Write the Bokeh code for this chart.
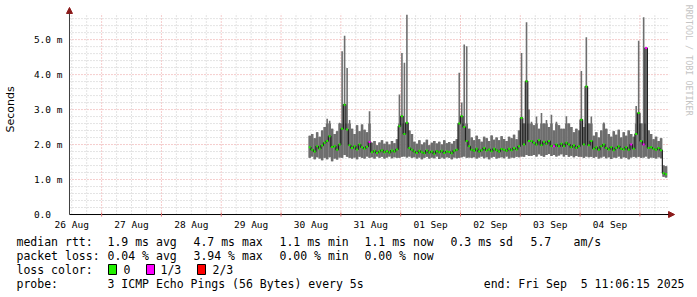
import math
from bokeh.plotting import figure
from bokeh.layouts import column
from bokeh.models import Range1d, FixedTicker, Arrow, NormalHead
from bokeh.core.properties import value
from bokeh.embed import file_html
from bokeh.resources import INLINE

# ---------------- data (median RTT in ms, hourly bins) ----------------
# hours since 26 Aug 00:00; first bin starts 30 Aug 11:00
DATA_START = 107
lo = [
    1.62, 1.66, 1.58, 1.64, 1.60, 1.55, 1.62, 1.58, 1.64, 1.52, 1.60, 1.57, 1.63,
    1.62, 1.70, 1.65, 1.62,
    1.60, 1.63, 1.58, 1.65, 1.62, 1.60, 1.66, 1.62,
    1.64, 1.60, 1.66, 1.62, 1.65, 1.60, 1.63, 1.66, 1.61, 1.64, 1.62,
    1.62, 1.65, 1.66, 1.63, 1.66, 1.62,
    1.64, 1.60, 1.63, 1.58, 1.62, 1.65, 1.60, 1.63, 1.61, 1.66, 1.59, 1.63, 1.60, 1.64, 1.62, 1.58, 1.63, 1.61,
    1.62, 1.64, 1.66, 1.62, 1.63,
    1.62, 1.64, 1.60, 1.63, 1.66, 1.61, 1.64, 1.58, 1.63, 1.65, 1.60, 1.62, 1.64, 1.61, 1.66, 1.60, 1.63, 1.62, 1.65,
    1.64, 1.66, 1.65, 1.70, 1.67, 1.68,
    1.70, 1.66, 1.72, 1.68, 1.65, 1.70, 1.73, 1.67, 1.70, 1.66, 1.69, 1.72,
    1.66, 1.70, 1.65, 1.68, 1.64, 1.67, 1.65,
    1.65, 1.62, 1.66, 1.64, 1.65,
    1.62, 1.65, 1.60, 1.63, 1.66, 1.61, 1.64, 1.59, 1.63, 1.62, 1.66, 1.60, 1.64, 1.62, 1.58, 1.63, 1.65,
    1.63, 1.65, 1.62, 1.63, 1.66, 1.60, 1.63,
    1.62, 1.60, 1.64, 1.61,
    1.08, 1.06,
]
hi = [
    2.25, 2.30, 2.18, 2.35, 2.22, 2.40, 2.50, 2.74, 2.68, 2.45, 2.30, 2.38, 2.62,
    4.67, 5.11, 4.19, 2.70,
    2.45, 2.30, 2.55, 2.38, 2.57, 2.42, 2.35, 2.95,
    2.05, 2.10, 1.98, 2.06, 2.12, 2.02, 2.08, 2.00, 2.10, 2.04, 2.15,
    3.43, 4.62, 4.34, 5.71, 2.40, 2.30,
    2.08, 2.02, 2.12, 2.00, 2.06, 2.14, 1.98, 2.05, 2.10, 2.03, 2.08, 2.00, 2.12, 2.04, 2.07, 2.02, 2.10, 2.15,
    4.05, 3.20, 4.86, 4.81, 2.45,
    2.20, 2.12, 2.25, 2.15, 2.08, 2.22, 2.18, 2.10, 2.26, 2.14, 2.20, 2.12, 2.24, 2.16, 2.10, 2.22, 2.18, 2.28, 2.15,
    2.40, 4.62, 2.60, 5.50, 3.00, 2.65,
    2.55, 2.80, 2.45, 2.90, 2.60, 2.70, 2.50, 2.85, 2.40, 2.65, 2.55, 2.45,
    2.45, 2.81, 2.60, 2.50, 2.35, 2.45, 2.40,
    4.10, 2.50, 5.07, 2.60, 2.80,
    2.25, 2.35, 2.20, 2.40, 2.63, 2.45, 2.30, 2.22, 2.38, 2.28, 2.42, 2.20, 2.35, 2.25, 2.40, 2.30, 2.22,
    3.10, 4.97, 2.60, 5.64, 4.76, 2.40, 2.30,
    2.15, 2.22, 2.10, 2.18,
    1.40, 1.38,
]
med = [
    1.92, 1.85, 1.80, 1.95, 1.88, 1.97, 2.05, 2.10, 2.24, 1.93, 1.95, 1.85, 2.00,
    2.45, 3.14, 2.43, 1.98,
    1.90, 1.95, 1.86, 2.00, 1.92, 1.88, 1.94, 2.07,
    1.78, 1.82, 1.76, 1.80, 1.84, 1.78, 1.81, 1.77, 1.83, 1.80, 1.86,
    2.52, 2.81, 2.30, 2.62, 1.90, 1.85,
    1.80, 1.76, 1.82, 1.78, 1.75, 1.83, 1.77, 1.80, 1.74, 1.81, 1.78, 1.82, 1.76, 1.80, 1.79, 1.75, 1.82, 1.85,
    2.60, 2.81, 2.50, 2.10, 1.95,
    1.85, 1.82, 1.88, 1.80, 1.84, 1.90, 1.83, 1.86, 1.81, 1.88, 1.84, 1.80, 1.87, 1.85, 1.82, 1.88, 1.84, 1.90, 1.86,
    1.95, 2.76, 2.00, 3.81, 2.10, 2.10,
    2.05, 2.00, 2.12, 1.98, 2.08, 2.02, 2.10, 1.96, 1.95, 2.00, 1.95, 2.02,
    1.95, 2.05, 2.00, 1.92, 1.98, 1.90, 1.95,
    2.71, 2.00, 3.66, 1.98, 2.10,
    1.88, 1.92, 1.85, 1.95, 2.00, 1.90, 1.86, 1.92, 1.84, 1.90, 1.95, 1.88, 1.86, 1.92, 1.85, 2.00, 1.88,
    2.30, 2.90, 2.10, 2.00, 4.76, 1.90, 1.92,
    1.88, 1.85, 1.90, 1.84,
    1.18, 1.15,
]
# bins whose packet loss was 1/3 (all others 0)
loss_third_bins = [24, 98, 129, 134, 135]

loss_names = ["0", "1/3", "2/3"]
loss_colors = ["#22f000", "#ff00ff", "#ff0000"]

day_labels = ["26 Aug", "27 Aug", "28 Aug", "29 Aug", "30 Aug",
              "31 Aug", "01 Sep", "02 Sep", "03 Sep", "04 Sep"]
y_ticks = [0, 1, 2, 3, 4, 5]
y_labels = ["0.0\u00a0\u00a0", "1.0 m", "2.0 m", "3.0 m", "4.0 m", "5.0 m"]

stats_rtt = ["1.9 ms avg", "4.7 ms max", "1.1 ms min", "1.1 ms now", "0.3 ms sd", "5.7", "am/s"]
stats_loss = ["0.04 % avg", "3.94 % max", "0.00 % min", "0.00 % now"]

# ---------------- geometry ----------------
X0 = 11.104            # 26 Aug 11:06:15 (hours since 26 Aug 00:00)
SPAN = 240.0           # ten days shown
PXH = 2.5              # px per hour
PXV = 35.14            # px per ms
AX_X, AX_Y = 67, 215   # pixel position of the axes corner
W, H_MAIN, H_LEG = 697, 232, 65
FL, FT, FB = 63, 0, 219   # frame of main figure (left, top, bottom), right = W

XS = X0 - (AX_X - FL) / PXH
XE = X0 + (W - AX_X) / PXH
YS = -(FB - AX_Y) / PXV
YE = (AX_Y - FT) / PXV
Y_TOP = (AX_Y - 13) / PXV          # top of the graph area


def px2x(px):
    return X0 + (px - AX_X) / PXH


def py2y(py):
    return (AX_Y - py) / PXV


p = figure(width=W, height=H_MAIN, x_range=Range1d(XS, XE), y_range=Range1d(YS, YE),
           min_border_left=FL, min_border_right=0, min_border_top=FT,
           min_border_bottom=H_MAIN - FB, toolbar_location=None, output_backend="svg",
           background_fill_color="white", border_fill_color="white")
p.outline_line_color = None
p.xgrid.visible = False
p.ygrid.visible = False
p.frame_align = False

noons = [12 + 24 * k for k in range(len(day_labels))]
midnights = [24 * k for k in range(1, 11)]
six_h = [6 * k for k in range(2, 42) if k % 4 != 0]
y_minor = [round(0.2 * k, 2) for k in range(1, 29) if k % 5 != 0]

# grid (dotted)
gx_end = px2x(669)
p.segment(x0=six_h, x1=six_h, y0=0, y1=Y_TOP, line_color="#c8c8c8", line_dash="1 2", line_width=1)
p.segment(x0=[X0] * len(y_minor), x1=[gx_end] * len(y_minor), y0=y_minor, y1=y_minor,
          line_color="#c8c8c8", line_dash="1 2", line_width=1)
p.segment(x0=midnights, x1=midnights, y0=0, y1=Y_TOP, line_color="#eb9a9a", line_dash="1 2", line_width=1)
p.segment(x0=[X0] * 5, x1=[gx_end] * 5, y0=y_ticks[1:], y1=y_ticks[1:],
          line_color="#eb9a9a", line_dash="1 2", line_width=1)

# y axis (labels only; the line is drawn below)
ya = p.yaxis[0]
ya.bounds = (0, Y_TOP)
ya.ticker = FixedTicker(ticks=y_ticks, minor_ticks=[])
ya.major_label_overrides = {t: s for t, s in zip(y_ticks, y_labels)}
ya.major_tick_line_color = None
ya.major_tick_out = 0
ya.major_tick_in = 0
ya.minor_tick_line_color = None
ya.minor_tick_out = 0
ya.minor_tick_in = 0
ya.axis_line_color = None
ya.major_label_text_font = "DejaVu Sans Mono"
ya.major_label_text_font_size = "9.5px"
ya.major_label_text_color = "black"
ya.major_label_standoff = 3
ya.axis_label = "Seconds"
ya.axis_label_text_font = "DejaVu Sans"
ya.axis_label_text_font_size = "11px"
ya.axis_label_text_font_style = "normal"
ya.axis_label_text_color = "black"
ya.axis_label_standoff = 14

# x axis (labels only)
xa = p.xaxis[0]
xa.bounds = (X0, X0 + SPAN)
xa.ticker = FixedTicker(ticks=noons, minor_ticks=[])
xa.major_label_overrides = {t: s for t, s in zip(noons, day_labels)}
xa.major_tick_line_color = None
xa.major_tick_out = 0
xa.major_tick_in = 0
xa.minor_tick_line_color = None
xa.minor_tick_out = 0
xa.minor_tick_in = 0
xa.axis_line_color = None
xa.major_label_text_font = "DejaVu Sans Mono"
xa.major_label_text_font_size = "9.5px"
xa.major_label_text_color = "black"
xa.major_label_standoff = 0

# axis lines and day ticks
p.segment(x0=[X0], x1=[X0 + SPAN], y0=[0], y1=[0], line_color="black", line_width=1)
p.segment(x0=[X0], x1=[X0], y0=[0], y1=[Y_TOP], line_color="#404040", line_width=1)
p.segment(x0=midnights, x1=midnights, y0=-2 / PXV, y1=2 / PXV, line_color="#e07070", line_width=1)

# ---------------- data glyphs ----------------
hours = [DATA_START + i + 0.5 for i in range(len(med))]
loss_idx = [1 if i in loss_third_bins else 0 for i in range(len(med))]
colors = [loss_colors[k] for k in loss_idx]
band_top = [min(h, 2.6) for h in hi]

p.vbar(x=hours, width=1.04, bottom=lo, top=band_top, fill_color="#6e6e6e", line_color=None)
p.segment(x0=hours, x1=hours, y0=lo, y1=hi, line_color="#6e6e6e", line_width=1.6)
p.step(x=hours, y=med, mode="center", line_color="#202020", line_width=1.2)
p.rect(x=hours, y=med, width=0.8, height=2, height_units="screen",
       fill_color=colors, line_color=None)

# axis arrows
head_col = "#8b1a1a"
p.add_layout(Arrow(end=NormalHead(size=6, fill_color=head_col, line_color=head_col),
                   x_start=X0, y_start=Y_TOP - 0.2, x_end=X0, y_end=py2y(7),
                   line_color="#404040", line_width=1))
p.add_layout(Arrow(end=NormalHead(size=6, fill_color=head_col, line_color=head_col),
                   x_start=X0 + SPAN - 1, y_start=0, x_end=px2x(674), y_end=0,
                   line_color="black", line_width=1))

# watermark
p.text(x=[px2x(688)], y=[py2y(60)], text=["RRDTOOL / TOBI OETIKER"], angle=-math.pi / 2,
       text_align="center", text_baseline="middle", text_font=value("DejaVu Sans Mono"),
       text_font_size="8.4px", text_color="#c4c4c4")

# ---------------- legend block ----------------
q = figure(width=W, height=H_LEG, x_range=Range1d(0, W), y_range=Range1d(H_LEG, 0),
           min_border=0, toolbar_location=None, output_backend="svg",
           x_axis_type=None, y_axis_type=None,
           background_fill_color="white", border_fill_color="white")
q.outline_line_color = None
q.xgrid.visible = False
q.ygrid.visible = False
q.frame_align = False

r1, r2, r3, r4 = [r - H_MAIN for r in (241, 255, 269, 283)]
tx, ty, tt, ta = [], [], [], []


def put(text, px, row, align="left"):
    tx.append(px)
    ty.append(row)
    tt.append(text)
    ta.append(align)


put("median rtt:", 16, r1)
for s, xp in zip(stats_rtt, [107, 193, 279, 364, 450, 530, 573]):
    put(s, xp, r1)
put("packet loss:", 16, r2)
for s, xp in zip(stats_loss, [107, 193, 279, 364]):
    put(s, xp, r2)
put("loss color:", 16, r3)
for name, xp in zip(loss_names, [123, 160, 212]):
    put(name, xp, r3)
put("probe:", 16, r4)
put("3 ICMP Echo Pings (56 Bytes) every 5s", 107, r4)
put("end: Fri Sep\u00a0\u00a05 11:06:15 2025", 684, r4, "right")

q.text(x=tx, y=ty, text=tt, text_align=ta, text_baseline="middle",
       text_font=value("DejaVu Sans Mono"), text_font_size="11.5px", text_color="black")
q.rect(x=[112, 150, 201], y=[r3, r3, r3], width=8, height=10,
       fill_color=loss_colors, line_color="black", line_width=1)

open("out.html", "w").write(file_html(column(p, q, spacing=0), INLINE))
